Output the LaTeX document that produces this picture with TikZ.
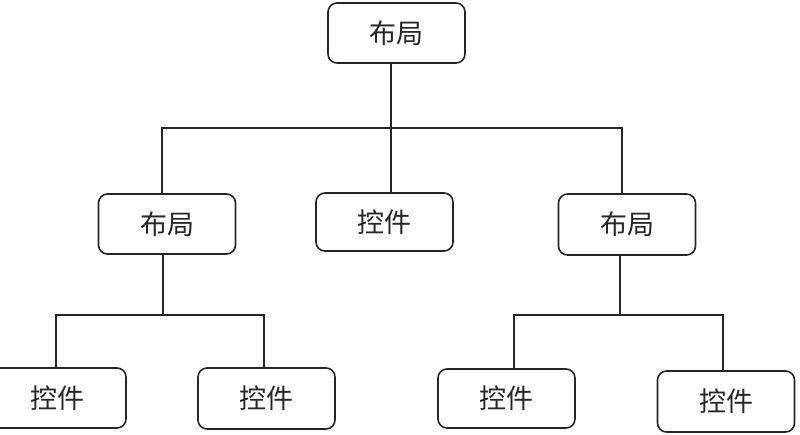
\documentclass[tikz,border=0pt]{standalone}
\usepackage{fontspec}
\newfontfamily\cjk{Noto Sans CJK SC}
\begin{document}
\begin{tikzpicture}[x=1pt,y=-1pt,
  box/.style={draw=black!85, line width=1.6pt, rounded corners=9pt, minimum width=137pt, minimum height=60pt,
    inner sep=0pt, font=\cjk\fontsize{27}{27}\selectfont, text=black!85},
  link/.style={draw=black!85, line width=1.6pt}]
\useasboundingbox (0,0) rectangle (800,434);
\fill[white] (0,0) rectangle (800,434);
% nodes
\node[box] (top) at (396.5,33) {布局};
\node[box] (L) at (167,224) {布局};
\node[box, minimum height=58pt] (M) at (384.5,222) {控件};
\node[box, minimum height=61pt] (R) at (627,224.5) {布局};
\node[box] (B1) at (57.5,398) {控件};
\node[box, minimum height=61pt] (B2) at (266.5,398.5) {控件};
\node[box, minimum height=59pt] (B3) at (506.5,398.5) {控件};
\node[box, minimum height=61pt] (B4) at (726,401.5) {控件};
% junctions
\coordinate (bus1) at (391,128);
\coordinate (xL) at (162,0);
\coordinate (xR) at (622,0);
\coordinate (bus2) at (163,315);
\coordinate (x1) at (56,0);
\coordinate (x2) at (264,0);
\coordinate (bus3) at (620,315);
\coordinate (x3) at (514,0);
\coordinate (x4) at (723,0);
% connectors
\draw[link] (top.south -| bus1) -- (M.north -| bus1);
\draw[link] (L.north -| xL) |- (bus1) -| (R.north -| xR);
\draw[link] (L.south -| bus2) -- (bus2);
\draw[link] (B1.north -| x1) |- (bus2) -| (B2.north -| x2);
\draw[link] (R.south -| bus3) -- (bus3);
\draw[link] (B3.north -| x3) |- (bus3) -| (B4.north -| x4);
\end{tikzpicture}
\end{document}
